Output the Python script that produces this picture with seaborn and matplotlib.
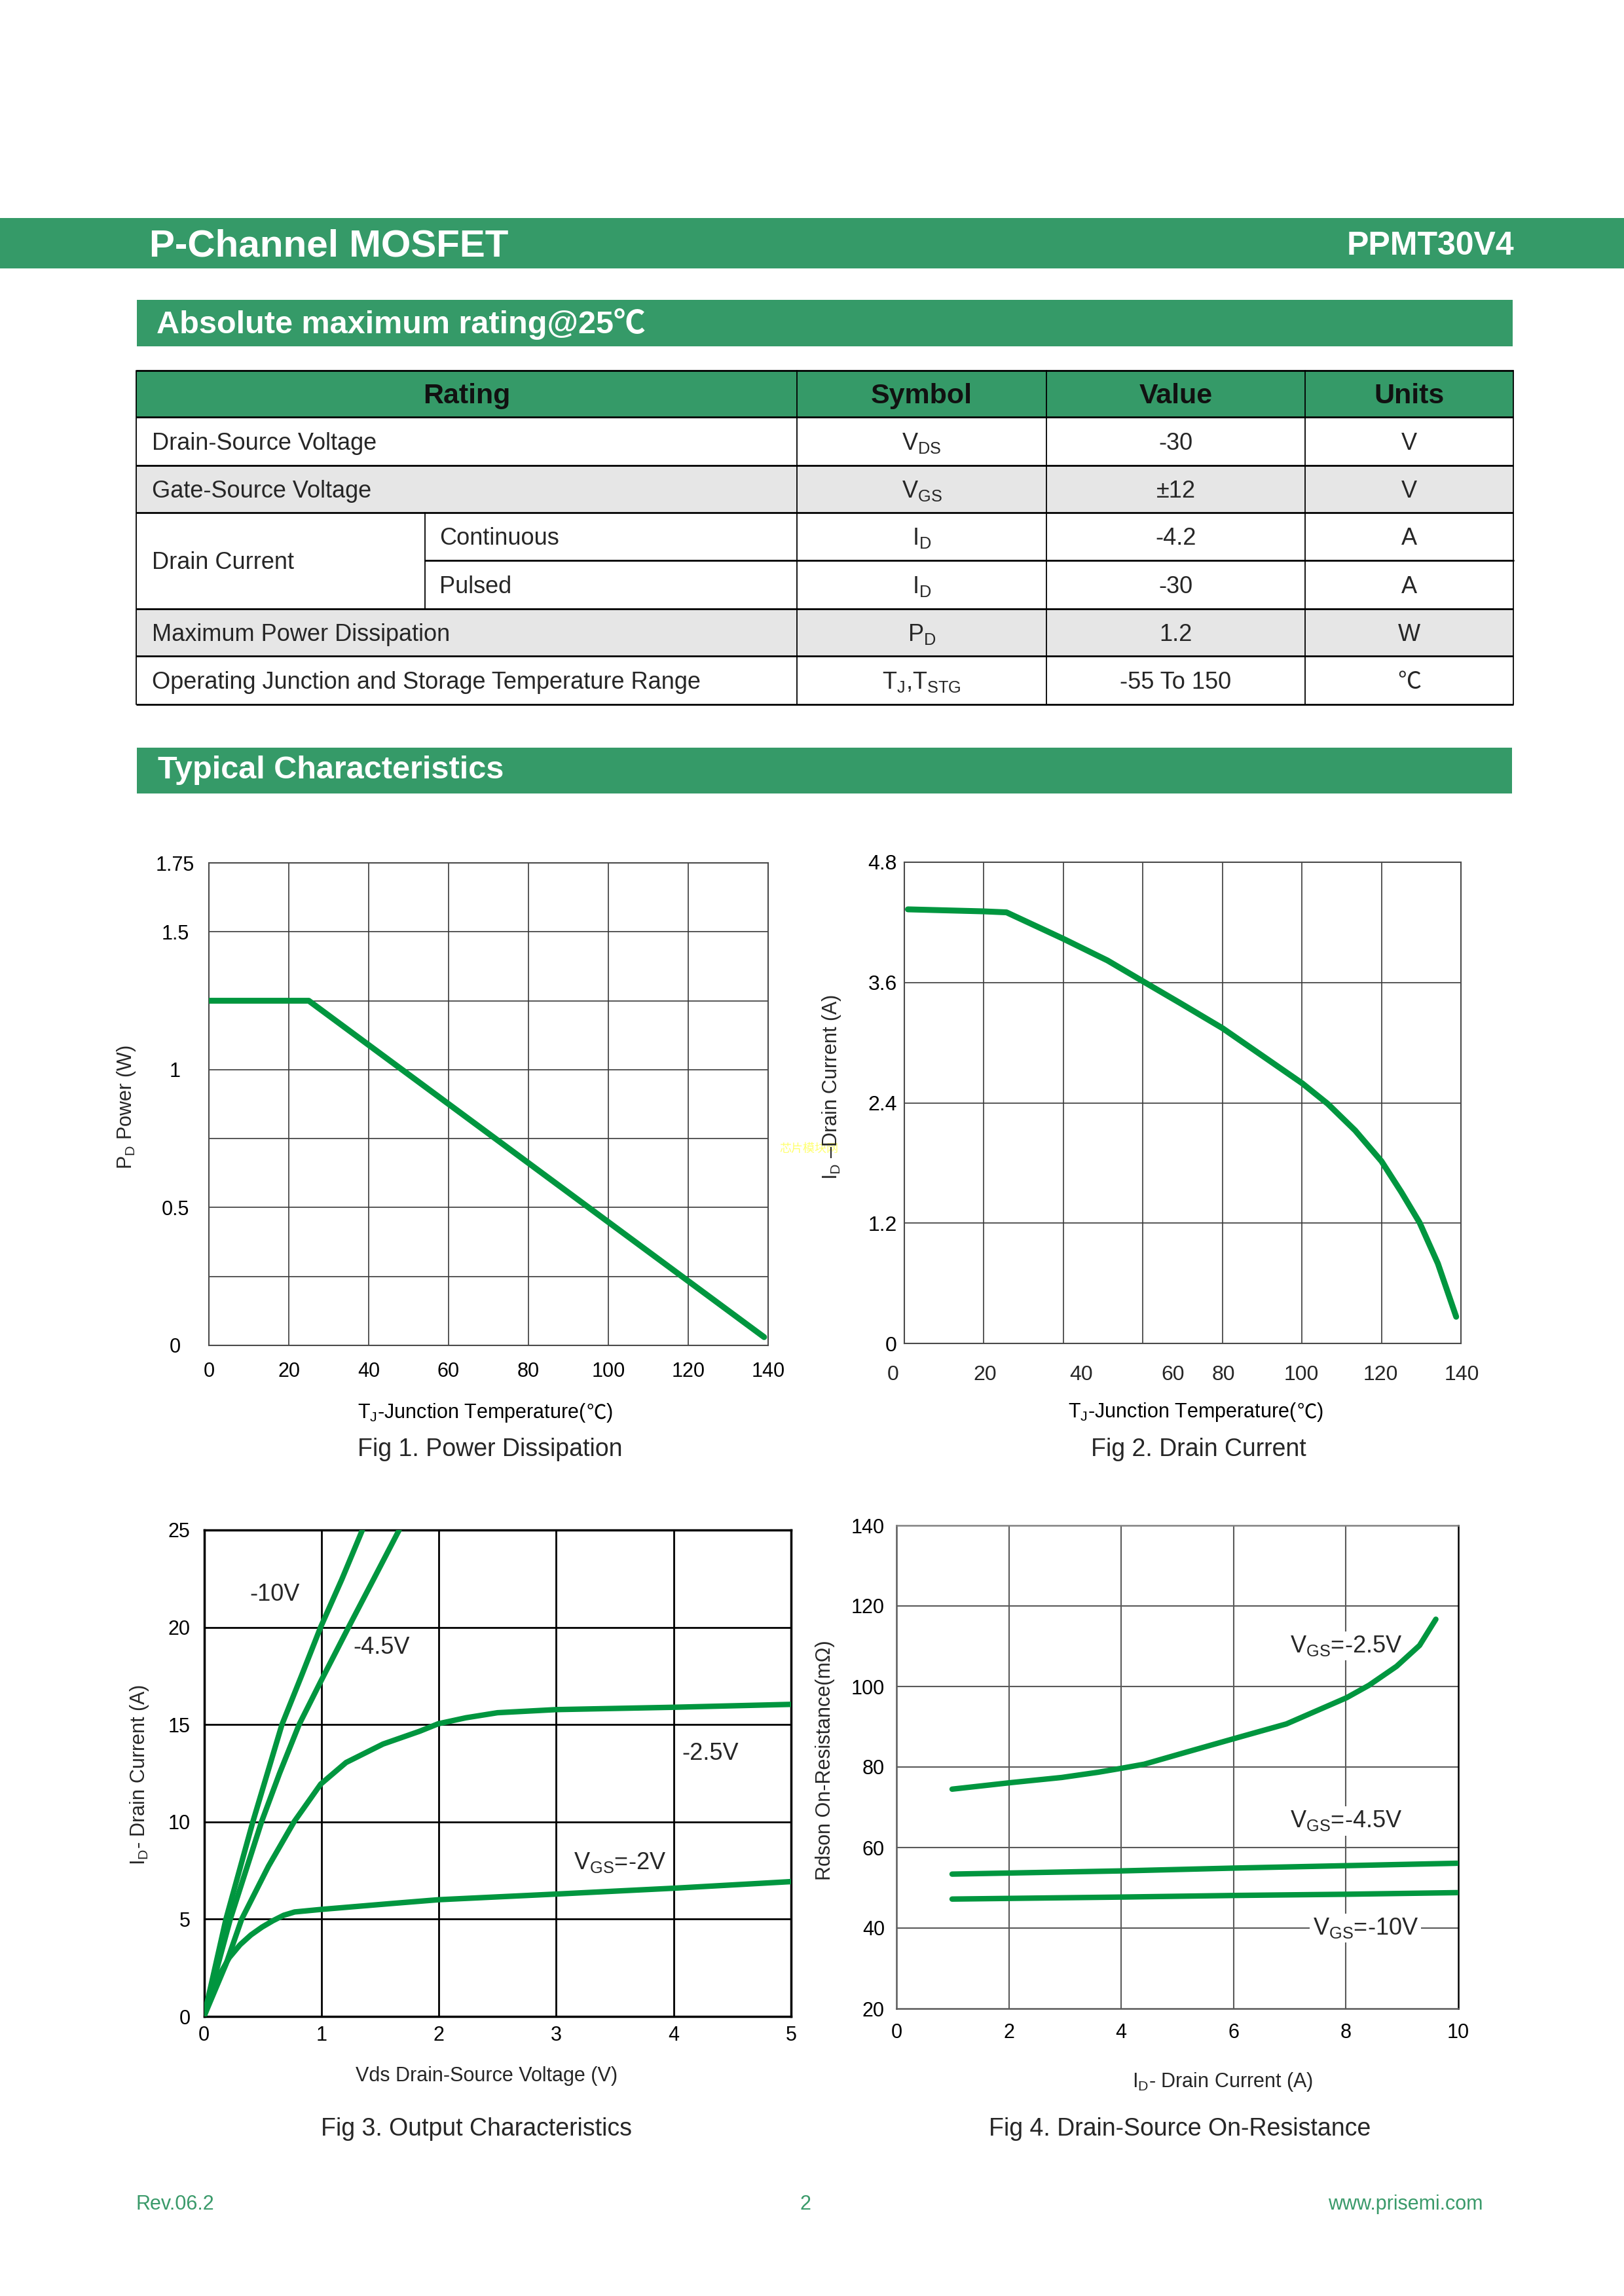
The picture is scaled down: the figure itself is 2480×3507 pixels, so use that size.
import numpy as np
import pandas as pd
import matplotlib
matplotlib.use("Agg")
import matplotlib.pyplot as plt
import seaborn as sns
from matplotlib.patches import Rectangle

sns.set_style("white")
plt.rcParams["font.family"] = ["Liberation Sans", "Noto Sans CJK SC", "DejaVu Sans"]
plt.rcParams["mathtext.fontset"] = "custom"
plt.rcParams["mathtext.rm"] = "Liberation Sans"
plt.rcParams["axes.unicode_minus"] = False

# ---------------- data ----------------
table_header = ["Rating", "Symbol", "Value", "Units"]
table_ratings = ["Drain-Source Voltage", "Gate-Source Voltage", "Continuous", "Pulsed",
                 "Maximum Power Dissipation", "Operating Junction and Storage Temperature Range"]
table_symbols = [r"$\mathregular{V_{DS}}$", r"$\mathregular{V_{GS}}$", r"$\mathregular{I_D}$",
                 r"$\mathregular{I_D}$", r"$\mathregular{P_D}$",
                 r"$\mathregular{T_J}$,$\mathregular{T_{STG}}$"]
table_values = ["-30", "±12", "-4.2", "-30", "1.2", "-55 To 150"]
table_units = ["V", "V", "A", "A", "W", "℃"]

fig1_temp = [0, 25, 139]
fig1_power = [1.25, 1.25, 0.03]

fig2_temp = [0.9, 19.9, 25.7, 39.8, 51.1, 59.9, 69.6, 80.0, 90.4, 100.1, 106.5, 113.4,
             120.0, 125.0, 129.6, 134.2, 138.8]
fig2_current = [4.33, 4.31, 4.30, 4.04, 3.82, 3.615, 3.39, 3.145, 2.86, 2.594, 2.39, 2.124,
                1.818, 1.51, 1.205, 0.797, 0.266]
fig2_xtick_labels = ["0", "20", "40", "60", "80", "100", "120", "140"]
fig2_xtick_pos = [-2.8, 20.3, 44.4, 67.6, 80.3, 99.9, 119.8, 140.2]

vds_10v = [0, 0.187, 0.416, 0.664, 0.830, 0.993, 1.173, 1.349]
id_10v = [0, 5, 10, 15, 17.5, 20, 22.45, 25]
vds_45v = [0, 0.224, 0.49, 0.644, 0.81, 0.993, 1.231, 1.447, 1.662]
id_45v = [0, 5, 10, 12.5, 15, 17.2, 20, 22.5, 25]
vds_25v = [0, 0.187, 0.321, 0.549, 0.767, 0.994, 1.21, 1.525, 1.838, 1.994, 2.23, 2.5, 3.0, 4.0, 5.0]
id_25v = [0, 2.68, 5, 7.72, 10, 11.94, 13.05, 14.0, 14.66, 15.04, 15.35, 15.61, 15.77, 15.89, 16.04]
vds_2v = [0, 0.131, 0.215, 0.308, 0.40, 0.494, 0.587, 0.679, 0.772, 0.996, 1.609, 2.0, 3.0, 4.0, 5.0]
id_2v = [0, 2.12, 3.02, 3.69, 4.19, 4.59, 4.92, 5.2, 5.37, 5.5, 5.81, 6.0, 6.29, 6.59, 6.93]

id4_25v = [0.99, 2.02, 2.94, 3.59, 4.01, 4.41, 5.06, 6.02, 6.94, 8.01, 8.41, 8.9, 9.31, 9.6]
rds_25v = [74.5, 76.1, 77.4, 78.7, 79.7, 80.7, 83.3, 87.1, 90.7, 97.2, 100.3, 105.0, 110.2, 116.7]
id4_45v = [0.99, 4.01, 6.02, 8.01, 9.98]
rds_45v = [53.4, 54.2, 54.9, 55.5, 56.1]
id4_10v = [0.99, 4.01, 6.02, 8.01, 9.98]
rds_10v = [47.2, 47.7, 48.1, 48.4, 48.8]

# ---------------- styles ----------------
W, H = 2480, 3507
BAND = "#359a68"
CURVE = "#00963f"
GREY_ROW = "#e6e6e6"
FOOT = "#3a9a6a"
LBL = 22
CAP = 27
ANN = 26

fig = plt.figure(figsize=(W / 100, H / 100), dpi=100)
bg = fig.add_axes([0, 0, 1, 1], zorder=0)
bg.set_xlim(0, W)
bg.set_ylim(H, 0)
bg.axis("off")
renderer = fig.canvas.get_renderer()


def rich(x, y, segs, size, ha="center", color="black", weight="normal", va="baseline"):
    texts, widths = [], []
    for s, fam in segs:
        t = bg.text(0, y, s, fontsize=size, family=fam, color=color, weight=weight,
                    ha="left", va=va)
        widths.append(t.get_window_extent(renderer).width)
        texts.append(t)
    total = sum(widths)
    x0 = x - total / 2 if ha == "center" else (x - total if ha == "right" else x)
    for t, w in zip(texts, widths):
        t.set_x(x0)
        x0 += w


# ---------------- page header ----------------
bg.add_patch(Rectangle((0, 333), W, 77, color=BAND, lw=0))
bg.text(228, 392, "P-Channel MOSFET", fontsize=42, weight="bold", color="white",
        ha="left", va="baseline")
bg.text(2312, 389, "PPMT30V4", fontsize=36, weight="bold", color="white",
        ha="right", va="baseline")

bg.add_patch(Rectangle((209, 458), 2101, 71, color=BAND, lw=0))
bg.text(239, 509, "Absolute maximum rating@25℃", fontsize=35, weight="bold", color="white",
        ha="left", va="baseline", family=["Liberation Sans", "Noto Sans CJK SC"])

# ---------------- table ----------------
row_y = [566, 637, 711, 783, 856, 930, 1002, 1076]
col_x = [208, 1217, 1598, 1993, 2311]
bg.add_patch(Rectangle((208, 566), 2103, 71, color=BAND, lw=0))
bg.add_patch(Rectangle((208, 711), 2103, 72, color=GREY_ROW, lw=0))
bg.add_patch(Rectangle((208, 930), 2103, 72, color=GREY_ROW, lw=0))
for yy in [566, 637, 711, 783, 930, 1002, 1076]:
    bg.plot([208, 2311], [yy, yy], color="black", lw=2.0, solid_capstyle="butt")
bg.plot([649, 2311], [856, 856], color="black", lw=2.0)
for xx in col_x:
    bg.plot([xx, xx], [566, 1076], color="black", lw=1.3)
bg.plot([649, 649], [783, 930], color="black", lw=1.3)

centers = [(col_x[0] + col_x[1]) / 2] + [(col_x[i] + col_x[i + 1]) / 2 for i in range(1, 4)]
for c, h in zip(centers, table_header):
    bg.text(c, 601 + 15, h, fontsize=31, weight="bold", color="#111111", ha="center", va="baseline")

TS = 26
for i in range(6):
    yc = (row_y[i + 1] + row_y[i + 2]) / 2 + 13
    if table_ratings[i] in ("Continuous", "Pulsed"):
        bg.text(671, yc, table_ratings[i], fontsize=TS, ha="left", va="baseline")
    else:
        bg.text(232, yc, table_ratings[i], fontsize=TS, ha="left", va="baseline")
    bg.text(centers[1], yc, table_symbols[i], fontsize=TS, ha="center", va="baseline")
    bg.text(centers[2], yc, table_values[i], fontsize=TS, ha="center", va="baseline")
    bg.text(centers[3], yc, table_units[i], fontsize=TS, ha="center", va="baseline",
            family=["Liberation Sans", "Noto Sans CJK SC"])
bg.text(232, 856 + 13, "Drain Current", fontsize=TS, ha="left", va="baseline")

# ---------------- typical characteristics band ----------------
bg.add_patch(Rectangle((209, 1142), 2100, 70, color=BAND, lw=0))
bg.text(241, 1189, "Typical Characteristics", fontsize=35, weight="bold", color="white",
        ha="left", va="baseline")


def add_chart(l, t, r, b):
    ax = fig.add_axes([l / W, 1 - b / H, (r - l) / W, (b - t) / H], zorder=2)
    ax.set_facecolor("white")
    return ax


def style(ax, grid_x, grid_y, gcol, glw, scol, slw):
    for gx in grid_x:
        ax.axvline(gx, color=gcol, lw=glw, zorder=1)
    for gy in grid_y:
        ax.axhline(gy, color=gcol, lw=glw, zorder=1)
    for sp in ax.spines.values():
        sp.set_visible(True)
        sp.set_color(scol)
        sp.set_linewidth(slw)
    ax.set_xlabel("")
    ax.set_ylabel("")
    ax.tick_params(length=0, labelsize=LBL, colors="black")


# ---------------- Fig 1 ----------------
ax1 = add_chart(319, 1318, 1173, 2055)
sns.lineplot(x=fig1_temp, y=fig1_power, ax=ax1, color=CURVE, lw=6.5, zorder=3)
ax1.set_xlim(0, 140)
ax1.set_ylim(0, 1.75)
style(ax1, [20, 40, 60, 80, 100, 120], [0.25, 0.5, 0.75, 1.0, 1.25, 1.5], "#3a3a3a", 1.2, "#4a4a4a", 1.5)
ax1.set_xticks([0, 20, 40, 60, 80, 100, 120, 140])
ax1.set_yticks([0, 0.5, 1, 1.5, 1.75], ["0", "0.5", "1", "1.5", "1.75"])
ax1.tick_params(axis="y", pad=37)
ax1.tick_params(axis="x", pad=18)
for t in ax1.get_yticklabels():
    t.set_ha("center")
rich(418, 1393, [(r"$\mathregular{T_A}$=-25", "Liberation Sans"), ("℃", "Noto Sans CJK SC")], ANN, ha="left")
bg.text(193, 1691, r"$\mathregular{P_D}$ Power (W)", fontsize=LBL, rotation=90, ha="center", va="center")
rich(741, 2166, [(r"$\mathregular{T_J}$-Junction Temperature(", "Liberation Sans"),
                 ("℃", "Noto Sans CJK SC"), (")", "Liberation Sans")], LBL)
bg.text(748, 2214, "Fig 1. Power Dissipation", fontsize=CAP, ha="center", va="center")

# ---------------- Fig 2 ----------------
bg.text(1190, 1755, "芯片模块网", fontsize=13, family="Noto Sans CJK SC", color="#ffff70",
        ha="left", va="center")
ax2 = add_chart(1381, 1317, 2231, 2052)
sns.lineplot(x=fig2_temp, y=fig2_current, ax=ax2, color=CURVE, lw=6.5, zorder=3)
ax2.set_xlim(0, 140)
ax2.set_ylim(0, 4.8)
style(ax2, [20, 40, 60, 80, 100, 120], [1.2, 2.4, 3.6], "#3a3a3a", 1.2, "#4a4a4a", 1.5)
ax2.set_xticks([])
ax2.set_yticks([0, 1.2, 2.4, 3.6, 4.8], ["0", "1.2", "2.4", "3.6", "4.8"])
ax2.tick_params(axis="y", pad=8, labelsize=23)
for p, s in zip(fig2_xtick_pos, fig2_xtick_labels):
    ax2.text(p, -0.065, s, transform=ax2.get_xaxis_transform(), fontsize=23,
             ha="center", va="center", clip_on=False)
bg.text(1270, 1661, r"$\mathregular{I_D}$ –Drain Current (A)", fontsize=LBL, rotation=90,
        ha="center", va="center")
rich(1826, 2165, [(r"$\mathregular{T_J}$-Junction Temperature(", "Liberation Sans"),
                  ("℃", "Noto Sans CJK SC"), (")", "Liberation Sans")], LBL)
bg.text(1830, 2214, "Fig 2. Drain Current", fontsize=CAP, ha="center", va="center")

# ---------------- Fig 3 ----------------
ax3 = add_chart(311.5, 2337, 1208, 3080)
df3 = pd.concat([
    pd.DataFrame({"vds": vds_10v, "id": id_10v, "vgs": "-10V"}),
    pd.DataFrame({"vds": vds_45v, "id": id_45v, "vgs": "-4.5V"}),
    pd.DataFrame({"vds": vds_25v, "id": id_25v, "vgs": "-2.5V"}),
    pd.DataFrame({"vds": vds_2v, "id": id_2v, "vgs": "-2V"}),
])
sns.lineplot(data=df3, x="vds", y="id", hue="vgs", palette=[CURVE] * 4, estimator=None,
             lw=6, legend=False, ax=ax3, zorder=3)
ax3.set_xlim(0, 5)
ax3.set_ylim(0, 25)
style(ax3, [1, 2, 3, 4], [5, 10, 15, 20], "black", 2.0, "black", 2.5)
ax3.set_xticks([0, 1, 2, 3, 4, 5])
ax3.set_yticks([0, 5, 10, 15, 20, 25])
ax3.tick_params(axis="y", pad=15)
ax3.tick_params(axis="x", pad=10)
ax3.text(0.39, 21.7, "-10V", fontsize=ANN, ha="left", va="center")
ax3.text(1.27, 18.95, "-4.5V", fontsize=ANN, ha="left", va="center")
ax3.text(4.07, 13.5, "-2.5V", fontsize=ANN, ha="left", va="center")
ax3.text(3.15, 7.9, r"$\mathregular{V_{GS}}$=-2V", fontsize=ANN, ha="left", va="center")
bg.text(213, 2711, r"$\mathregular{I_D}$- Drain Current (A)", fontsize=LBL, rotation=90,
        ha="center", va="center")
bg.text(743, 3171, "Vds Drain-Source Voltage (V)", fontsize=LBL, ha="center", va="center")
bg.text(728, 3252, "Fig 3. Output Characteristics", fontsize=CAP, ha="center", va="center")

# ---------------- Fig 4 ----------------
ax4 = add_chart(1369, 2330, 2227, 3068)
df4 = pd.concat([
    pd.DataFrame({"id": id4_25v, "rds": rds_25v, "vgs": "-2.5V"}),
    pd.DataFrame({"id": id4_45v, "rds": rds_45v, "vgs": "-4.5V"}),
    pd.DataFrame({"id": id4_10v, "rds": rds_10v, "vgs": "-10V"}),
])
sns.lineplot(data=df4, x="id", y="rds", hue="vgs", palette=[CURVE] * 3, estimator=None,
             lw=6, legend=False, ax=ax4, zorder=3)
ax4.set_xlim(0, 10)
ax4.set_ylim(20, 140)
style(ax4, [2, 4, 6, 8], [40, 60, 80, 100, 120], "#5a5a5a", 1.5, "#5a5a5a", 1.8)
ax4.spines["right"].set_color("black")
ax4.spines["top"].set_color("#808080")
ax4.set_xticks([0, 2, 4, 6, 8, 10])
ax4.set_yticks([20, 40, 60, 80, 100, 120, 140])
ax4.tick_params(axis="y", pad=13)
ax4.tick_params(axis="x", pad=16)
box = dict(facecolor="white", edgecolor="none", pad=3)
ax4.text(7.0, 110.1, r"$\mathregular{V_{GS}}$=-2.5V", fontsize=ANN, ha="left", va="center", bbox=box, zorder=2)
ax4.text(7.0, 66.6, r"$\mathregular{V_{GS}}$=-4.5V", fontsize=ANN, ha="left", va="center", bbox=box, zorder=2)
ax4.text(7.41, 40.0, r"$\mathregular{V_{GS}}$=-10V", fontsize=ANN, ha="left", va="center", bbox=box, zorder=2)
bg.text(1260, 2689, "Rdson On-Resistance(mΩ)", fontsize=LBL, rotation=90, ha="center", va="center")
bg.text(1867, 3180, r"$\mathregular{I_D}$- Drain Current (A)", fontsize=LBL, ha="center", va="center")
bg.text(1802, 3252, "Fig 4. Drain-Source On-Resistance", fontsize=CAP, ha="center", va="center")

# ---------------- footer ----------------
bg.text(208, 3375, "Rev.06.2", fontsize=22, color=FOOT, ha="left", va="baseline")
bg.text(1230, 3375, "2", fontsize=22, color=FOOT, ha="center", va="baseline")
bg.text(2265, 3375, "www.prisemi.com", fontsize=22, color=FOOT, ha="right", va="baseline")

fig.savefig("out.png", dpi=100, facecolor="white")
